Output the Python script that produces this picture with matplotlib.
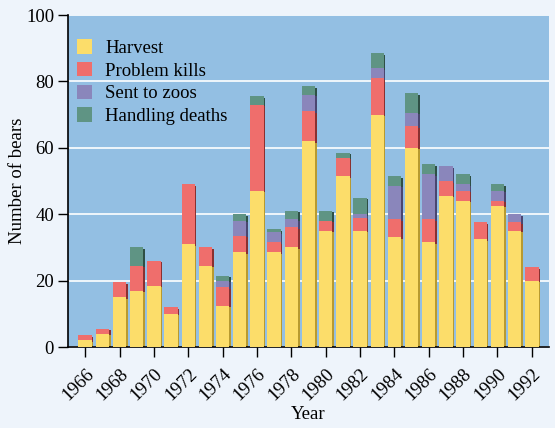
import matplotlib
matplotlib.use("Agg")
import matplotlib.pyplot as plt
import matplotlib.transforms as mtransforms
import numpy as np

plt.rcParams['font.family'] = ['Liberation Serif', 'DejaVu Serif']

years = list(range(1966, 1993))
harvest = [2, 4, 15, 17, 18.5, 10, 31, 24.5, 12.5, 28.5, 47, 28.5, 30, 62,
           35, 51.5, 35, 70, 33, 60, 31.5, 45.5, 44, 32.5, 42.5, 35, 20]
problem_kills = [1.5, 1.5, 4.5, 7.5, 7.5, 2, 18, 5.5, 5.5, 5, 26, 3, 6, 9,
                 3, 5.5, 4, 11, 5.5, 6.5, 7, 4.5, 3, 5, 1.5, 2.5, 4]
sent_to_zoos = [0, 0, 0, 0, 0, 0, 0, 0, 2, 4.5, 0, 3, 2.5, 5,
                0, 0, 1, 3, 10, 4, 13.5, 4.5, 2, 0, 3, 2.5, 0]
handling_deaths = [0, 0, 0, 5.5, 0, 0, 0, 0, 1.5, 2, 2.5, 1, 2.5, 2.5,
                   3, 1.5, 5, 4.5, 3, 6, 3, 0, 3, 0, 2, 0, 0]

series = [("Harvest", harvest, "#fcdd6a", "#b89a30"),
          ("Problem kills", problem_kills, "#ef6e6c", "#8a3030"),
          ("Sent to zoos", sent_to_zoos, "#8a86bb", "#4a4670"),
          ("Handling deaths", handling_deaths, "#5f9484", "#2e4f45")]

fig = plt.figure(figsize=(5.55, 4.28), dpi=100)
fig.patch.set_facecolor("#eef4fb")
ax = fig.add_axes([68/555, 1-347/428, (549-68)/555, (347-15)/428])
ax.set_facecolor("#93bfe3")

shadow_tr = ax.transData + mtransforms.ScaledTranslation(1.5/100, -1.5/100, fig.dpi_scale_trans)
x = np.array(years)
width = 0.78
bottom = np.zeros(len(years))
handles = []
for name, vals, col, dark in series:
    vals = np.array(vals, dtype=float)
    sb = ax.bar(x, vals, width, bottom=bottom, color=dark, zorder=2, linewidth=0)
    for p in sb:
        p.set_transform(shadow_tr)
    bottom += vals
bottom = np.zeros(len(years))
for name, vals, col, dark in series:
    vals = np.array(vals, dtype=float)
    b = ax.bar(x, vals, width, bottom=bottom, color=col, zorder=3, linewidth=0, label=name)
    handles.append(b)
    bottom += vals

ax.set_xlim(1965, 1993)
ax.set_ylim(0, 100)
ax.set_yticks([0, 20, 40, 60, 80, 100])
ax.yaxis.grid(True, color="white", linewidth=1.2, zorder=1)
ax.set_axisbelow(True)
ax.set_xticks(years[::2])
ax.set_xticklabels([str(y) for y in years[::2]], rotation=45, ha="right",
                   rotation_mode="anchor", fontsize=13.5)
ax.tick_params(axis='y', labelsize=13.5, length=7, width=1, direction='out', pad=3)
ax.tick_params(axis='x', length=7, width=1, direction='out', pad=6)
for s in ["top", "right"]:
    ax.spines[s].set_visible(False)
for s in ["left", "bottom"]:
    ax.spines[s].set_linewidth(1.2)
ax.set_xlabel("Year", fontsize=13.5, labelpad=2)
ax.set_ylabel("Number of bears", fontsize=13.5, labelpad=0)

leg = ax.legend(handles=handles, loc="upper left", bbox_to_anchor=(9/481, 0.927),
                frameon=False, fontsize=13.5, handlelength=0.8, handleheight=0.8,
                labelspacing=0.27, handletextpad=0.7, borderaxespad=0, borderpad=0)

fig.savefig("out.png", dpi=100, facecolor=fig.get_facecolor())
